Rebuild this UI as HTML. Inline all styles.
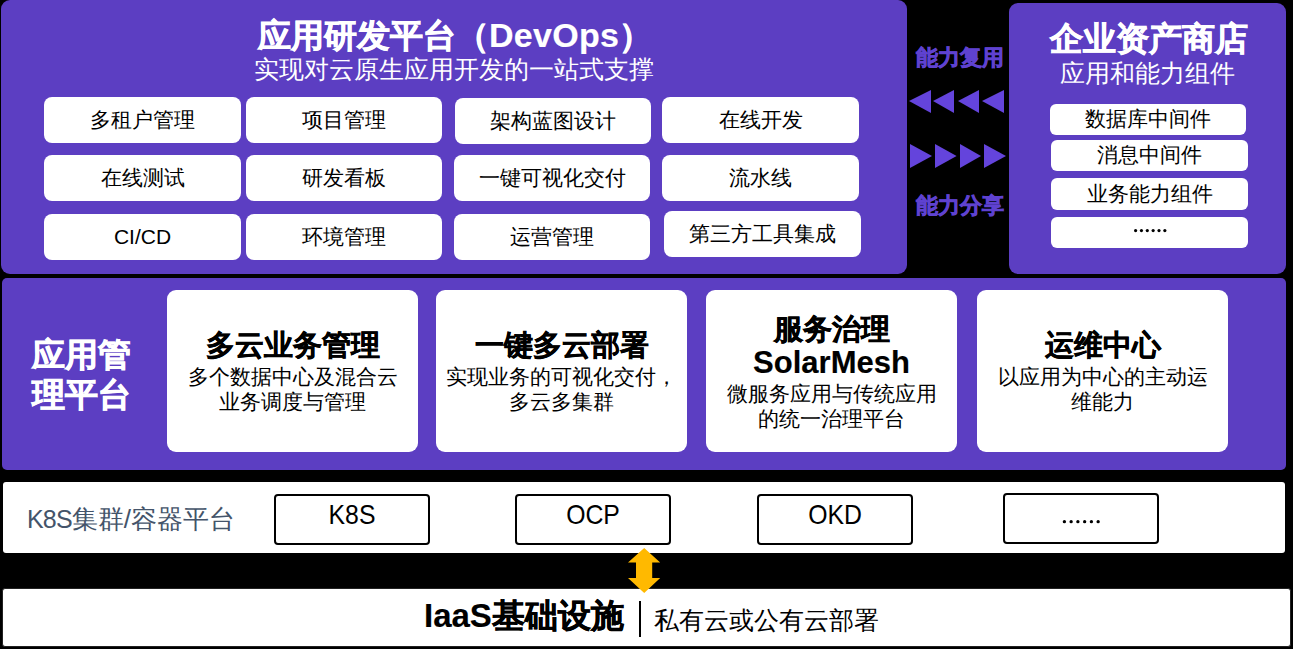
<!DOCTYPE html>
<html><head><meta charset="utf-8">
<style>
*{margin:0;padding:0;box-sizing:border-box}
html,body{width:1293px;height:649px;background:#000;overflow:hidden}
body{position:relative;font-family:"Liberation Sans",sans-serif;color:#000}
.a{position:absolute}
.p{background:#5c3ec2}
.w{background:#fff}
.t{position:absolute;white-space:nowrap;text-align:center;line-height:1}
.b{font-weight:bold;-webkit-text-stroke:0.7px currentColor}
.bd{-webkit-text-stroke:0.45px currentColor}
.l{-webkit-text-stroke:0.15px currentColor}
.tri{position:absolute;width:0;height:0}
</style></head><body>

<!-- top-left panel -->
<div class="a p" style="left:1px;top:0;width:906px;height:274px;border-radius:9px"></div>
<div class="t b" style="left:258px;top:18px;font-size:33px;color:#fff;text-align:left">应用研发平台（<span class="l" style="font-size:34px;letter-spacing:0.3px">DevOps</span>）</div>
<div class="t" style="left:1px;width:906px;top:57px;font-size:25px;color:#fff">实现对云原生应用开发的一站式支撑</div>

<div class="a w" style="left:44px;top:97px;width:197px;height:46px;border-radius:8px"></div>
<div class="a w" style="left:246px;top:97px;width:196px;height:46px;border-radius:8px"></div>
<div class="a w" style="left:455px;top:98px;width:196px;height:46px;border-radius:8px"></div>
<div class="a w" style="left:662px;top:97px;width:197px;height:46px;border-radius:8px"></div>

<div class="a w" style="left:44px;top:155px;width:197px;height:46px;border-radius:8px"></div>
<div class="a w" style="left:246px;top:155px;width:196px;height:46px;border-radius:8px"></div>
<div class="a w" style="left:454px;top:155px;width:196px;height:46px;border-radius:8px"></div>
<div class="a w" style="left:662px;top:155px;width:197px;height:46px;border-radius:8px"></div>

<div class="a w" style="left:44px;top:214px;width:197px;height:46px;border-radius:8px"></div>
<div class="a w" style="left:246px;top:214px;width:196px;height:46px;border-radius:8px"></div>
<div class="a w" style="left:454px;top:214px;width:196px;height:46px;border-radius:8px"></div>
<div class="a w" style="left:664px;top:211px;width:197px;height:46px;border-radius:8px"></div>

<div class="t" style="left:44px;width:197px;top:109px;font-size:21px">多租户管理</div>
<div class="t" style="left:246px;width:196px;top:109px;font-size:21px">项目管理</div>
<div class="t" style="left:455px;width:196px;top:110px;font-size:21px">架构蓝图设计</div>
<div class="t" style="left:662px;width:197px;top:109px;font-size:21px">在线开发</div>

<div class="t" style="left:44px;width:197px;top:167px;font-size:21px">在线测试</div>
<div class="t" style="left:246px;width:196px;top:167px;font-size:21px">研发看板</div>
<div class="t" style="left:454px;width:196px;top:167px;font-size:21px">一键可视化交付</div>
<div class="t" style="left:662px;width:197px;top:167px;font-size:21px">流水线</div>

<div class="t" style="left:44px;width:197px;top:226px;font-size:21px">CI/CD</div>
<div class="t" style="left:246px;width:196px;top:226px;font-size:21px">环境管理</div>
<div class="t" style="left:454px;width:196px;top:226px;font-size:21px">运营管理</div>
<div class="t" style="left:664px;width:197px;top:223px;font-size:21px">第三方工具集成</div>

<!-- arrows & labels -->
<div class="t b" style="left:909px;width:102px;top:47px;font-size:22px;color:#5f42d0">能力复用</div>
<div class="t b" style="left:909px;width:102px;top:195px;font-size:22px;color:#5f42d0">能力分享</div>
<svg class="a" style="left:905px;top:85px" width="106" height="90" viewBox="0 0 106 90">
<g fill="#6444dc">
<polygon points="4,16 26,5 26,28"/>
<polygon points="28,16 49,5 49,28"/>
<polygon points="53,16 74,5 74,28"/>
<polygon points="77,16 99,5 99,28"/>
<polygon points="5,59 27,71 5,83"/>
<polygon points="30,59 51.6,71 30,83"/>
<polygon points="55,59 76,71 55,83"/>
<polygon points="79,59 101,71 79,83"/>
</g></svg>

<!-- right panel -->
<div class="a p" style="left:1009px;top:3px;width:277px;height:271px;border-radius:9px"></div>
<div class="t b" style="left:1010px;width:277px;top:22px;font-size:33px;color:#fff">企业资产商店</div>
<div class="t" style="left:1009px;width:277px;top:61px;font-size:25px;color:#fff">应用和能力组件</div>
<div class="a w" style="left:1050px;top:104px;width:196px;height:31px;border-radius:6px"></div>
<div class="a w" style="left:1051px;top:140px;width:197px;height:31px;border-radius:6px"></div>
<div class="a w" style="left:1051px;top:178px;width:197px;height:32px;border-radius:6px"></div>
<div class="a w" style="left:1051px;top:217px;width:197px;height:31px;border-radius:6px"></div>
<div class="t" style="left:1050px;width:196px;top:108px;font-size:21px">数据库中间件</div>
<div class="t" style="left:1051px;width:197px;top:144px;font-size:21px">消息中间件</div>
<div class="t" style="left:1051px;width:197px;top:183px;font-size:21px">业务能力组件</div>


<!-- middle panel -->
<div class="a p" style="left:2px;top:278px;width:1284px;height:192px;border-radius:5px"></div>
<div class="t b" style="left:20px;width:122px;top:335px;font-size:33px;color:#fff;line-height:40px;white-space:normal">应用管<br>理平台</div>

<div class="a w" style="left:167px;top:290px;width:251px;height:162px;border-radius:9px"></div>
<div class="a w" style="left:436px;top:290px;width:251px;height:162px;border-radius:9px"></div>
<div class="a w" style="left:706px;top:290px;width:251px;height:162px;border-radius:9px"></div>
<div class="a w" style="left:977px;top:290px;width:251px;height:162px;border-radius:9px"></div>

<div class="t b bd" style="left:167px;width:251px;top:331px;font-size:29px">多云业务管理</div>
<div class="t" style="left:167px;width:251px;top:363.5px;font-size:21px;line-height:25.5px">多个数据中心及混合云<br>业务调度与管理</div>

<div class="t b bd" style="left:436px;width:251px;top:331px;font-size:29px">一键多云部署</div>
<div class="t" style="left:436px;width:251px;top:363.5px;font-size:21px;line-height:25.5px">实现业务的可视化交付，<br>多云多集群</div>

<div class="t b bd" style="left:706px;width:251px;top:315px;font-size:29px">服务治理</div>
<div class="t b l" style="left:706px;width:251px;top:347px;font-size:31px">SolarMesh</div>
<div class="t" style="left:706px;width:251px;top:380.5px;font-size:21px;line-height:25.5px">微服务应用与传统应用<br>的统一治理平台</div>

<div class="t b bd" style="left:977px;width:251px;top:331px;font-size:29px">运维中心</div>
<div class="t" style="left:977px;width:251px;top:363.5px;font-size:21px;line-height:25.5px">以应用为中心的主动运<br>维能力</div>

<!-- k8s bar -->
<div class="a w" style="left:3px;top:482px;width:1282px;height:71px;border-radius:3px"></div>
<div class="t" style="left:27px;top:505.5px;font-size:26px;color:#44546a;text-align:left"><span style="font-size:25px;letter-spacing:-0.8px">K8S</span>集群/容器平台</div>
<div class="a" style="left:274px;top:494px;width:156px;height:51px;border:2px solid #000;border-radius:4px;background:#fff"></div>
<div class="a" style="left:515px;top:494px;width:156px;height:51px;border:2px solid #000;border-radius:4px;background:#fff"></div>
<div class="a" style="left:757px;top:494px;width:156px;height:51px;border:2px solid #000;border-radius:4px;background:#fff"></div>
<div class="a" style="left:1003px;top:493px;width:156px;height:51px;border:2px solid #000;border-radius:4px;background:#fff"></div>
<div class="t" style="left:274px;width:156px;top:500px;font-size:28.5px;transform:scaleX(0.87)">K8S</div>
<div class="t" style="left:515px;width:156px;top:500px;font-size:28.5px;transform:scaleX(0.87)">OCP</div>
<div class="t" style="left:757px;width:156px;top:500px;font-size:28.5px;transform:scaleX(0.87)">OKD</div>


<!-- iaas bar -->
<div class="a w" style="left:2px;top:588px;width:1289px;height:59px;border-radius:3px;border:1px solid #222"></div>
<div class="t b bd" style="left:424px;top:599px;font-size:33px;text-align:left"><span class="l">IaaS</span>基础设施</div>
<div class="a" style="left:638.5px;top:601px;width:2.8px;height:36px;background:#000"></div>
<div class="t" style="left:654px;top:608px;font-size:25px;text-align:left">私有云或公有云部署</div>

<svg class="a" style="left:0;top:0" width="1293" height="649"><g fill="#000"><circle cx="1135.60" cy="230.6" r="1.6"/><circle cx="1141.45" cy="230.6" r="1.6"/><circle cx="1147.30" cy="230.6" r="1.6"/><circle cx="1153.15" cy="230.6" r="1.6"/><circle cx="1159.00" cy="230.6" r="1.6"/><circle cx="1164.85" cy="230.6" r="1.6"/><circle cx="1064.40" cy="521.7" r="1.65"/><circle cx="1071.15" cy="521.7" r="1.65"/><circle cx="1077.90" cy="521.7" r="1.65"/><circle cx="1084.65" cy="521.7" r="1.65"/><circle cx="1091.40" cy="521.7" r="1.65"/><circle cx="1098.15" cy="521.7" r="1.65"/></g></svg>
<!-- yellow arrow -->
<svg class="a" style="left:620px;top:540px" width="50" height="60" viewBox="620 540 50 60">
<polygon fill="#ffb900" points="644.2,548 660.2,562.6 652.2,562.6 652.2,578 660.2,578 644.2,593 628,578 636,578 636,562.6 628,562.6"/>
</svg>

</body></html>
